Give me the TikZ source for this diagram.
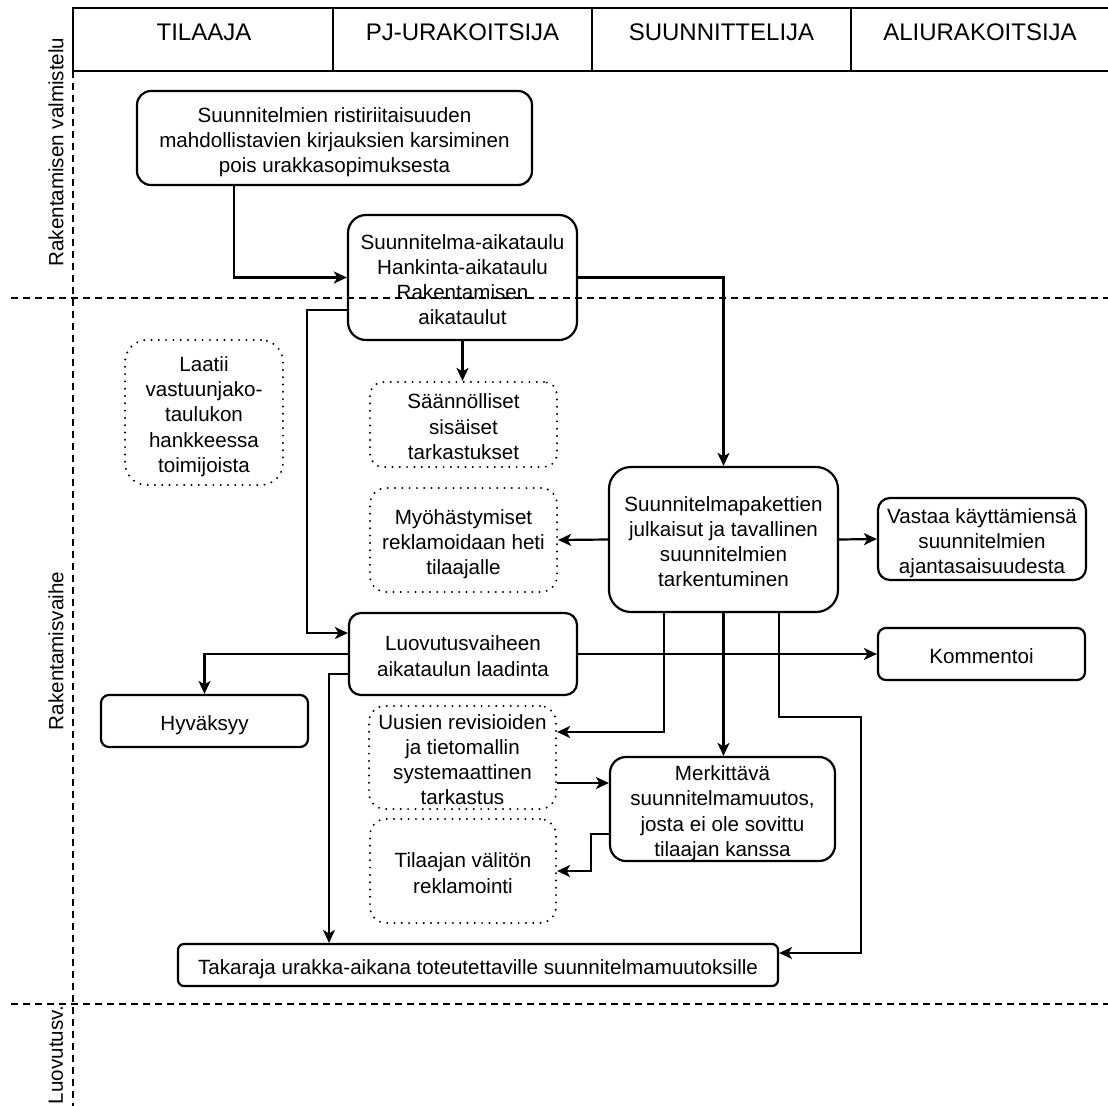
\documentclass[tikz,border=0pt]{standalone}
\usepackage{fontspec}
\setmainfont{Liberation Sans}
\usetikzlibrary{arrows.meta}
% invisible rules that fix the vertical placement of the text lines in a box:
% one gives the first line its height, the other gives the last line its depth
\newcommand{\topstrut}{\rule{0pt}{23bp}}
\newcommand{\bottomstrut}{\rule[-4bp]{0pt}{4bp}}
\newcommand{\boxlines}[1]{\topstrut#1\bottomstrut}
\begin{document}
\begin{tikzpicture}[x=1bp,y=-1bp,
  every node/.style={font=\fontsize{20.6bp}{25.3bp}\selectfont, align=center, inner sep=0pt},
  box/.style={draw, line width=2.2bp, rounded corners=#1},
  dotbox/.style={draw, line width=2.2bp, line cap=round, dash pattern=on 0bp off 7.3bp, rounded corners=#1},
  arr/.style={draw, line width=2.2bp, -{Stealth[length=13bp,width=12bp,inset=3.5bp]}},
  lane/.style={line width=2bp, dash pattern=on 7bp off 5bp},
  hdr/.style={font=\fontsize{24bp}{28bp}\selectfont, anchor=base},
  lanelabel/.style={rotate=90}
]
\fill[white] (0,0) rectangle (1108,1106);
\useasboundingbox (0,0) rectangle (1108,1106);

% column header
\draw[line width=2.2bp] (73,8) rectangle (1114,71);
\draw[line width=2.2bp] (333,8) -- (333,71);
\draw[line width=2.2bp] (592,8) -- (592,71);
\draw[line width=2.2bp] (851,8) -- (851,71);
\node[hdr] (h1) at (204,40) {TILAAJA};
\node[hdr] (h2) at (462.5,40) {PJ-URAKOITSIJA};
\node[hdr] (h3) at (721.5,40) {SUUNNITTELIJA};
\node[hdr] (h4) at (980,40) {ALIURAKOITSIJA};

% phase separators
\draw[lane] (73,71) -- (73,1112);
\draw[lane] (11,298) -- (1112,298);
\draw[lane] (11,1004) -- (1112,1004);
\node[lanelabel] (p1) at (56,152) {Rakentamisen valmistelu};
\node[lanelabel] (p2) at (56,651) {Rakentamisvaihe};
\node[lanelabel] (p3) at (56,1055) {Luovutusv.};

% process steps
\node[box=14bp, minimum width=395bp, minimum height=94bp] (n1) at (334.5,138)
  {\boxlines{Suunnitelmien ristiriitaisuuden\\mahdollistavien kirjauksien karsiminen\\pois urakkasopimuksesta}};
\node[box=18bp, minimum width=229bp, minimum height=125bp] (n2) at (462.5,277.5)
  {\boxlines{Suunnitelma-aikataulu\\Hankinta-aikataulu\\Rakentamisen\\aikataulut}};
\node[dotbox=13bp, minimum width=187bp, minimum height=85bp] (s1) at (463.5,424.5)
  {\boxlines{Säännölliset\\sisäiset\\tarkastukset}};
\node[dotbox=22bp, minimum width=158bp, minimum height=145bp] (l1) at (204,412.5)
  {\boxlines{Laatii\\vastuunjako-\\taulukon\\hankkeessa\\toimijoista}};
\node[box=22bp, minimum width=229bp, minimum height=145bp] (n3) at (723.5,539.5)
  {\boxlines{Suunnitelmapakettien\\julkaisut ja tavallinen\\suunnitelmien\\tarkentuminen}};
\node[dotbox=16bp, minimum width=187bp, minimum height=104bp] (m1) at (463.5,540)
  {\boxlines{Myöhästymiset\\reklamoidaan heti\\tilaajalle}};
\node[box=12bp, minimum width=208bp, minimum height=82bp] (v1) at (982,539)
  {\boxlines{Vastaa käyttämiensä\\suunnitelmien\\ajantasaisuudesta}};
\node[box=8bp, minimum width=207bp, minimum height=52bp] (k1) at (981.5,654)
  {\boxlines{Kommentoi}};
\node[box=12bp, minimum width=228bp, minimum height=82bp] (lu) at (463,654)
  {\boxlines{Luovutusvaiheen\\aikataulun laadinta}};
\node[box=8bp, minimum width=207bp, minimum height=52bp] (hy) at (204.5,721)
  {\boxlines{Hyväksyy}};
\node[dotbox=16bp, minimum width=187bp, minimum height=103bp] (u1) at (462.5,757.5)
  {\boxlines{Uusien revisioiden\\ja tietomallin\\systemaattinen\\tarkastus}};
\node[box=16bp, minimum width=225bp, minimum height=104bp] (me) at (722.5,809)
  {\boxlines{Merkittävä\\suunnitelmamuutos,\\josta ei ole sovittu\\tilaajan kanssa}};
\node[dotbox=16bp, minimum width=186bp, minimum height=104bp] (t1) at (463,871)
  {\boxlines{Tilaajan välitön\\reklamointi}};
\node[box=6bp, minimum width=600bp, minimum height=42bp] (ta) at (478,965)
  {\boxlines{Takaraja urakka-aikana toteutettaville suunnitelmamuutoksille}};

% connectors
\draw[arr] ([xshift=-100.5bp]n1.south) |- (n2.west);
\draw[arr] (n2.east) -| (n3.north);
\draw[arr] (n2.south) -- (n2.south |- s1.north);
\draw[arr] ([yshift=-32.5bp]n2.west) -- ++(-40,0) |- ([yshift=21bp]lu.west);
\draw[arr] (n3.west) -- (m1.east);
\draw[arr] (n3.east) -- (v1.west);
\draw[arr] (lu.east) -- (k1.west);
\draw[arr] (lu.west) -| (hy.north);
\draw[arr] ([yshift=-20bp]lu.west) -| ([xshift=-149bp]ta.north);
\draw[arr] ([xshift=-59.5bp]n3.south) |- ([yshift=25.5bp]u1.east);
\draw[arr] (n3.south) -- (n3.south |- me.north);
\draw[arr] ([xshift=55.5bp]n3.south) -- ++(0,104) -- ++(82,0) |- ([yshift=12bp]ta.east);
\coordinate (u1r) at ([yshift=-25.5bp]u1.east);
\draw[arr] (u1r) -- (u1r -| me.west);
\draw[arr] ([yshift=-25bp]me.west) -- ++(-18,0) |- (t1.east);
\end{tikzpicture}
\end{document}
